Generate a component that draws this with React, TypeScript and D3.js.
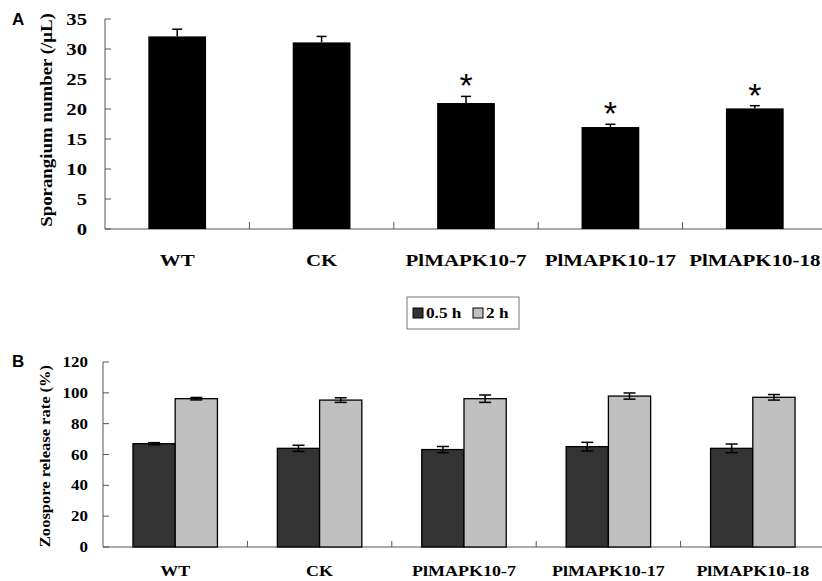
import React from 'react';
import * as d3 from 'd3';

const categories = ['WT', 'CK', 'PlMAPK10-7', 'PlMAPK10-17', 'PlMAPK10-18'];
const sporangium = [32.1, 31.1, 21.0, 17.0, 20.1];
const sporangiumErr = [1.2, 1.0, 1.1, 0.45, 0.45];
const significant = [false, false, true, true, true];
const release05 = [67, 64, 63.2, 65.1, 64];
const release05Err = [0.7, 2, 2, 2.8, 2.8];
const release2 = [96.2, 95.3, 96.2, 97.9, 97.1];
const release2Err = [0.8, 1.5, 2.4, 2, 1.8];
const seriesNames = ['0.5 h', '2 h'];
const seriesColors = ['#333333', '#c0c0c0'];
const ticksA = [0, 5, 10, 15, 20, 25, 30, 35];
const ticksB = [0, 20, 40, 60, 80, 100, 120];

const SERIF = '"Liberation Serif", "Times New Roman", serif';
const SANS = '"Liberation Sans", Arial, sans-serif';
const AXIS = '#555';

// Stretched bold serif text (the original labels are wider than plain Times)
const SText = ({ x, y, size, sx = 1.18, anchor = 'middle', rotate = 0, dy = '0', children }: any) => (
  <text
    transform={`translate(${x},${y}) rotate(${rotate}) scale(${sx},1)`}
    textAnchor={anchor}
    dy={dy}
    fontFamily={SERIF}
    fontWeight="bold"
    fontSize={size}
    fill="#000"
  >
    {children}
  </text>
);

const App = () => {
  // ---- Panel A ----
  const xA = d3.scaleBand().domain(categories).range([105, 827]).padding(0);
  const yA = d3.scaleLinear().domain([0, 35]).range([229, 19]);
  const barWA = xA.bandwidth() * 0.4;

  // ---- Panel B ----
  const xB = d3.scaleBand().domain(categories).range([103, 825]).padding(0);
  const yB = d3.scaleLinear().domain([0, 120]).range([547, 362]);
  const groupW = xB.bandwidth() * 0.585;
  const xSub = d3.scaleBand().domain(seriesNames).range([-groupW / 2, groupW / 2]).padding(0);
  const seriesB = [
    { name: seriesNames[0], vals: release05, errs: release05Err, color: seriesColors[0] },
    { name: seriesNames[1], vals: release2, errs: release2Err, color: seriesColors[1] },
  ];

  const tickBetween = (x: d3.ScaleBand<string>) => categories.slice(1).map((c) => x(c) as number);

  return (
    <svg width={822} height={581} style={{ position: 'absolute', left: 0, top: 0, background: '#fff' }}>
      <rect width={822} height={581} fill="#fff" />

      {/* Panel A */}
      <text x={12} y={25} fontFamily={SANS} fontWeight="bold" fontSize={17}>A</text>
      <line x1={105} x2={105} y1={yA(35)} y2={yA(0)} stroke={AXIS} />
      <line x1={105} x2={822} y1={yA(0)} y2={yA(0)} stroke={AXIS} />
      {ticksA.map((t) => (
        <g key={`ta${t}`}>
          <line x1={105} x2={111} y1={yA(t)} y2={yA(t)} stroke={AXIS} />
          <SText x={87} y={yA(t)} size={17.5} anchor="end" dy="0.34em">{t}</SText>
        </g>
      ))}
      {tickBetween(xA).map((x, i) => (
        <line key={`txa${i}`} x1={x} x2={x} y1={yA(0)} y2={yA(0) - 7} stroke={AXIS} />
      ))}
      {categories.map((c, i) => {
        const cx = (xA(c) as number) + xA.bandwidth() / 2;
        const top = yA(sporangium[i]);
        const errTop = yA(sporangium[i] + sporangiumErr[i]);
        return (
          <g key={`ba${c}`}>
            <rect x={cx - barWA / 2} y={top} width={barWA} height={yA(0) - top} fill="#000" />
            <line x1={cx} x2={cx} y1={top} y2={errTop} stroke="#000" strokeWidth={1.5} />
            <line x1={cx - 5} x2={cx + 5} y1={errTop} y2={errTop} stroke="#000" strokeWidth={1.5} />
            {significant[i] && (
              <text x={cx} y={errTop + 1} textAnchor="middle" fontFamily={SANS} fontSize={34}>*</text>
            )}
            <SText x={cx} y={266} size={17.6} sx={1.19}>{c}</SText>
          </g>
        );
      })}
      <SText x={52} y={120} size={16} rotate={-90}>Sporangium number (/μL)</SText>

      {/* Legend */}
      <rect x={407} y={297} width={112} height={32} fill="#fff" stroke="#777" />
      <rect x={413} y={308} width={10} height={10} fill={seriesColors[0]} stroke="#000" />
      <SText x={426} y={318} size={15} anchor="start" sx={1.15}>{seriesNames[0]}</SText>
      <rect x={473} y={308} width={10} height={10} fill={seriesColors[1]} stroke="#000" />
      <SText x={486} y={318} size={15} anchor="start" sx={1.15}>{seriesNames[1]}</SText>

      {/* Panel B */}
      <text x={12} y={367} fontFamily={SANS} fontWeight="bold" fontSize={17}>B</text>
      <line x1={103} x2={103} y1={yB(120)} y2={yB(0)} stroke={AXIS} />
      <line x1={103} x2={822} y1={yB(0)} y2={yB(0)} stroke={AXIS} />
      {ticksB.map((t) => (
        <g key={`tb${t}`}>
          <line x1={103} x2={109} y1={yB(t)} y2={yB(t)} stroke={AXIS} />
          <SText x={88} y={yB(t)} size={15} anchor="end" dy="0.34em" sx={1.13}>{t}</SText>
        </g>
      ))}
      {tickBetween(xB).map((x, i) => (
        <line key={`txb${i}`} x1={x} x2={x} y1={yB(0)} y2={yB(0) - 6} stroke={AXIS} />
      ))}
      {categories.map((c, i) => {
        const gx = (xB(c) as number) + xB.bandwidth() / 2;
        return (
          <g key={`bb${c}`}>
            {seriesB.map((s) => {
              const bx = gx + (xSub(s.name) as number);
              const top = yB(s.vals[i]);
              const cx = bx + xSub.bandwidth() / 2;
              const eHi = yB(s.vals[i] + s.errs[i]);
              const eLo = yB(s.vals[i] - s.errs[i]);
              return (
                <g key={s.name}>
                  <rect x={bx} y={top} width={xSub.bandwidth()} height={yB(0) - top} fill={s.color} stroke="#000" strokeWidth={1.3} />
                  <line x1={cx} x2={cx} y1={eHi} y2={eLo} stroke="#000" strokeWidth={1.5} />
                  <line x1={cx - 6} x2={cx + 6} y1={eHi} y2={eHi} stroke="#000" strokeWidth={1.5} />
                  <line x1={cx - 6} x2={cx + 6} y1={eLo} y2={eLo} stroke="#000" strokeWidth={1.5} />
                </g>
              );
            })}
            <SText x={gx} y={576} size={15} sx={1.2}>{c}</SText>
          </g>
        );
      })}
      <SText x={50} y={456} size={14} rotate={-90}>Zoospore release rate (%)</SText>
    </svg>
  );
};

export default App;
